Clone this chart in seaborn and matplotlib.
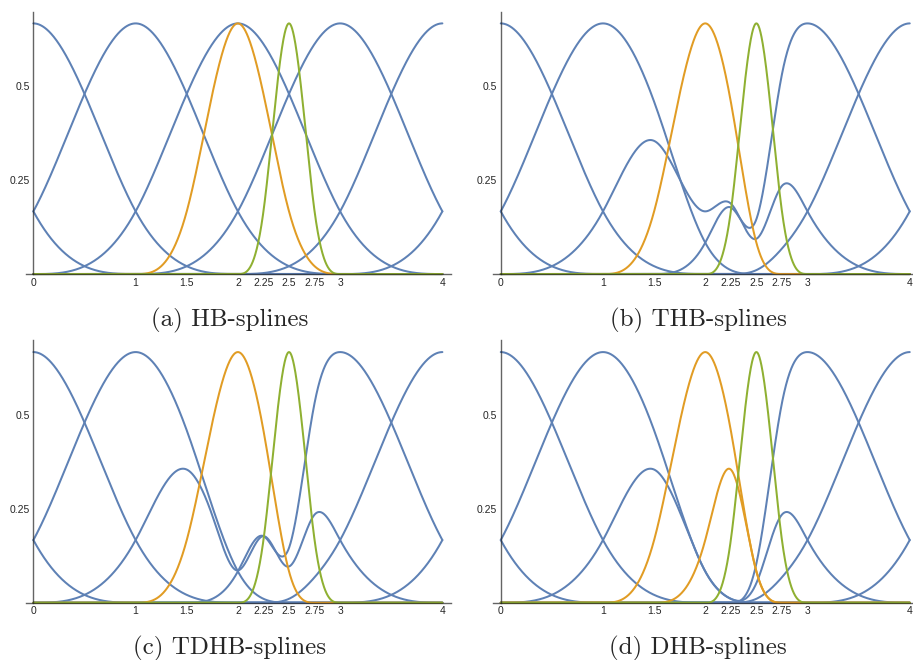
import numpy as np
import matplotlib
matplotlib.use("Agg")
import matplotlib.pyplot as plt
import seaborn as sns

# knot spacing of the three levels and the cubic two-scale mask (/8)
STEP = [1.0, 0.5, 0.25]
MASK = [1, 4, 6, 4, 1]

BLUE_CENTERS = [-1, 0, 1, 2, 3, 4, 5]
ORANGE_CENTER = 2.0
ORANGE2_CENTER = 2.5
GREEN_CENTER = 2.5

# level-1 B-splines removed from the coarse functions
CUT1 = [2.0]
# level-2 coefficients (in 1/64) replaced after refinement
THB_CUT2 = {2.5: 0}
TDHB_B2_CUT2 = {2.0: 0, 2.25: 17, 2.5: 0}
DHB_B2_CUT2 = {2.0: 4, 2.25: 0, 2.5: 0}
DHB_B3_CUT2 = {2.0: 0, 2.25: 0, 2.5: 0}
DHB_ORANGE2_CUT2 = {2.5: 0, 2.75: 0, 3.0: 0}

X_TICKS = [0, 1, 1.5, 2, 2.25, 2.5, 2.75, 3, 4]
X_TICK_LABELS = ["0", "1", "1.5", "2", "2.25", "2.5", "2.75", "3", "4"]
Y_TICKS = [0.25, 0.5]
Y_TICK_LABELS = ["0.25", "0.5"]

CAPTIONS = ["(a) HB-splines", "(b) THB-splines", "(c) TDHB-splines", "(d) DHB-splines"]

COLORS = {"blue": "#5E81B5", "orange": "#E19C24", "green": "#8FB032"}


def blue_set(special=None):
    """level-0 functions, truncated, with optional per-function overrides"""
    special = special or {}
    return [("blue", 0, c, CUT1, special.get(c, THB_CUT2)) for c in BLUE_CENTERS]


PANELS = [
    [("blue", 0, c, [], None) for c in BLUE_CENTERS]
    + [("orange", 1, ORANGE_CENTER, [], None), ("green", 2, GREEN_CENTER, [], None)],
    blue_set()
    + [("orange", 1, ORANGE_CENTER, [], THB_CUT2), ("green", 2, GREEN_CENTER, [], None)],
    blue_set({2: TDHB_B2_CUT2})
    + [("orange", 1, ORANGE_CENTER, [], THB_CUT2), ("green", 2, GREEN_CENTER, [], None)],
    blue_set({2: DHB_B2_CUT2, 3: DHB_B3_CUT2})
    + [("orange", 1, ORANGE_CENTER, [], THB_CUT2),
       ("orange", 1, ORANGE2_CENTER, [], DHB_ORANGE2_CUT2),
       ("green", 2, GREEN_CENTER, [], None)],
]


def bspline(t):
    t = np.abs(t)
    return np.where(t < 1, 2 / 3 - t ** 2 + t ** 3 / 2, np.where(t < 2, (2 - t) ** 3 / 6, 0.0))


def fine_coefficients(level, center, cut1, cut2):
    """Refine a level-l B-spline down to level 2, dropping pieces on the way"""
    coef = {float(center): 1.0}
    for lev in range(level, 2):
        h = STEP[lev + 1]
        new = {}
        for c, a in coef.items():
            for k, w in zip(range(-2, 3), MASK):
                key = round(c + k * h, 4)
                new[key] = new.get(key, 0.0) + a * w / 8
        coef = new
        if lev + 1 == 1:
            for c in cut1:
                coef.pop(c, None)
    if cut2:
        for c, v in cut2.items():
            coef[c] = v / 64
    return coef


def evaluate(x, coef):
    y = np.zeros_like(x)
    for c, a in coef.items():
        y += a * bspline((x - c) / STEP[2])
    return y


sns.set_style("white")
fig = plt.figure(figsize=(9.13, 6.6), dpi=100)

positions = [
    [0.0285, 0.5791, 0.465, 0.4033],
    [0.5404, 0.5791, 0.465, 0.4033],
    [0.0285, 0.0811, 0.465, 0.4033],
    [0.5404, 0.0811, 0.465, 0.4033],
]
caption_pos = [(230 / 913, 1 - 320 / 660), (698 / 913, 1 - 320 / 660),
               (230 / 913, 1 - 648 / 660), (698 / 913, 1 - 648 / 660)]

x = np.linspace(0, 4, 1601)

for pos, curves, caption, cpos in zip(positions, PANELS, CAPTIONS, caption_pos):
    ax = fig.add_axes(pos)
    for color, level, center, cut1, cut2 in curves:
        y = evaluate(x, fine_coefficients(level, center, cut1, cut2))
        sns.lineplot(x=x, y=y, ax=ax, color=COLORS[color], lw=1.45,
                     sort=False, estimator=None, errorbar=None, legend=False)
    for ln in ax.lines:
        ln.set_clip_on(False)

    ax.set_xlim(-0.072, 4.08)
    ax.set_ylim(-0.01, 0.698)
    for side in ["top", "right"]:
        ax.spines[side].set_visible(False)
    ax.spines["bottom"].set_position(("data", 0))
    ax.spines["left"].set_position(("data", 0))
    ax.spines["left"].set_bounds(0, 0.698)
    # axes drawn over the curves, slightly see-through like the original
    for side in ["bottom", "left"]:
        ax.spines[side].set_color("#222222")
        ax.spines[side].set_linewidth(1.0)
        ax.spines[side].set_alpha(0.7)
        ax.spines[side].set_zorder(3)

    ax.set_xticks(X_TICKS)
    ax.set_xticklabels(X_TICK_LABELS, fontfamily="Liberation Sans", fontsize=7.5)
    ax.set_yticks(Y_TICKS)
    ax.set_yticklabels(Y_TICK_LABELS, fontfamily="Liberation Sans", fontsize=7.5)
    ax.tick_params(direction="in", length=3.3, width=0.8, color="#222222", pad=2.5)
    ax.set_xlabel("")
    ax.set_ylabel("")
    ax.patch.set_alpha(0)

    fig.text(cpos[0], cpos[1], caption, ha="center", va="center",
             fontfamily="cmr10", fontsize=18)

fig.savefig("out.png", dpi=100)
plt.close(fig)
